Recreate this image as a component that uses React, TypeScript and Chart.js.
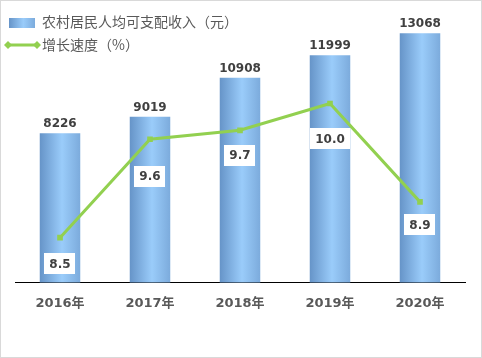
import React, { useEffect, useRef } from "react";
import { Chart, registerables } from "chart.js";

Chart.register(...registerables);

const years = ["2016年", "2017年", "2018年", "2019年", "2020年"];
const income = [8226, 9019, 10908, 11999, 13068];
const growth = [8.5, 9.6, 9.7, 10.0, 8.9];
const growthLabels = ["8.5", "9.6", "9.7", "10.0", "8.9"];
const incomeName = "农村居民人均可支配收入（元）";
const growthName = "增长速度（%）";

const labelOffsets = [26, 37, 25, 35, 23];
const GREEN = "#92D050";
const NUM_FONT = 'bold 12px "DejaVu Sans"';

function barGradient(c: CanvasRenderingContext2D, x0: number, x1: number) {
  const g = c.createLinearGradient(x0, 0, x1, 0);
  g.addColorStop(0, "#6694C8");
  g.addColorStop(0.55, "#9ACCFA");
  g.addColorStop(1, "#7CABDC");
  return g;
}

const overlay = {
  id: "overlay",
  afterDatasetsDraw(chart: any) {
    const c: CanvasRenderingContext2D = chart.ctx;
    c.save();
    const barMeta = chart.getDatasetMeta(0);
    c.font = NUM_FONT;
    c.fillStyle = "#404040";
    c.textAlign = "center";
    c.textBaseline = "bottom";
    barMeta.data.forEach((el: any, i: number) => {
      c.fillText(String(income[i]), el.x, el.y - 3);
    });
    const lineMeta = chart.getDatasetMeta(1);
    c.textBaseline = "middle";
    lineMeta.data.forEach((el: any, i: number) => {
      const t = growthLabels[i];
      const w = c.measureText(t).width + 10;
      const h = 21;
      const cy = el.y + labelOffsets[i];
      c.fillStyle = "#FFFFFF";
      c.fillRect(Math.round(el.x - w / 2), Math.round(cy - h / 2), Math.round(w), h);
      c.fillStyle = "#404040";
      c.fillText(t, el.x, cy + 1);
    });
    c.restore();
  },
  afterDraw(chart: any) {
    const c: CanvasRenderingContext2D = chart.ctx;
    c.save();
    c.strokeStyle = "#D9D9D9";
    c.lineWidth = 1;
    c.strokeRect(0.5, 0.5, chart.width - 1, chart.height - 1);
    c.fillStyle = barGradient(c, 9, 35);
    c.fillRect(9, 18, 26, 10);
    c.font = '14px "Noto Sans CJK SC"';
    c.fillStyle = "#595959";
    c.textAlign = "left";
    c.textBaseline = "middle";
    c.fillText(incomeName, 42, 22);
    c.strokeStyle = GREEN;
    c.lineWidth = 3;
    c.beginPath();
    c.moveTo(6, 45);
    c.lineTo(39, 45);
    c.stroke();
    c.fillStyle = GREEN;
    [8, 37].forEach((x) => {
      c.beginPath();
      c.moveTo(x, 41);
      c.lineTo(x + 4, 45);
      c.lineTo(x, 49);
      c.lineTo(x - 4, 45);
      c.closePath();
      c.fill();
    });
    c.fillStyle = "#595959";
    c.fillText(growthName, 42, 45);
    c.restore();
  },
};

export default function App() {
  const ref = useRef<HTMLCanvasElement>(null);
  useEffect(() => {
    document.body.style.margin = "0";
    const chart = new Chart(ref.current as HTMLCanvasElement, {
      type: "bar",
      data: {
        labels: years,
        datasets: [
          {
            type: "bar",
            label: incomeName,
            data: income,
            yAxisID: "y",
            order: 1,
            categoryPercentage: 1,
            barPercentage: 0.45,
            backgroundColor: (ctx: any) => {
              const chart = ctx.chart;
              const xs = chart.scales && chart.scales.x;
              if (!chart.chartArea || !xs || ctx.dataIndex === undefined) return "#7EB0E6";
              const cx = xs.getPixelForValue(ctx.dataIndex);
              const w = ((xs.right - xs.left) / years.length) * 0.45;
              return barGradient(chart.ctx, cx - w / 2, cx + w / 2);
            },
            borderWidth: 0,
          } as any,
          {
            type: "line",
            label: growthName,
            data: growth,
            yAxisID: "y2",
            order: 0,
            borderColor: GREEN,
            borderWidth: 3,
            backgroundColor: GREEN,
            pointStyle: "rect",
            pointRadius: 4,
            pointBorderWidth: 0,
            tension: 0,
          } as any,
        ],
      },
      options: {
        responsive: false,
        animation: false,
        events: [],
        layout: { padding: { left: 15, right: 17, top: 14, bottom: 42 } },
        plugins: { legend: { display: false }, tooltip: { enabled: false } },
        scales: {
          x: {
            grid: { display: false },
            border: { display: true, color: "#000000", width: 1 },
            ticks: {
              color: "#595959",
              font: { family: '"DejaVu Sans", "Noto Sans CJK SC"', size: 13, weight: "bold" },
              padding: 5,
            },
          },
          y: { display: false, min: 1000, max: 14000 },
          y2: { display: false, min: 8, max: 11, position: "right" },
        },
      },
      plugins: [overlay],
    });
    return () => chart.destroy();
  }, []);
  return <canvas ref={ref} width={482} height={358} style={{ display: "block" }} />;
}
